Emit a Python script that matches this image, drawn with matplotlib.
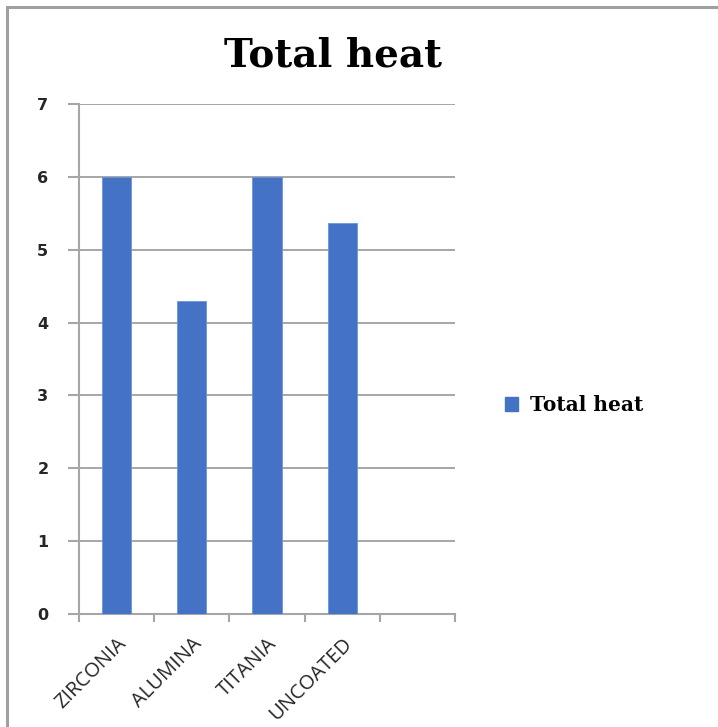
import matplotlib
matplotlib.use("Agg")
import matplotlib.pyplot as plt
from matplotlib.patches import Rectangle, Patch

categories = ["ZIRCONIA", "ALUMINA", "TITANIA", "UNCOATED", ""]
total_heat = [6.0, 4.3, 6.0, 5.36]
y_ticks = [0, 1, 2, 3, 4, 5, 6, 7]

bar_color = "#4472C4"
grid_color = "#A6A6A6"

fig = plt.figure(figsize=(7.18, 7.27), dpi=100)
ax = fig.add_axes([0.110, 0.1554, 0.5237, 0.7016])

n = len(categories)
ax.bar(range(len(total_heat)), total_heat, width=0.39, color=bar_color,
       edgecolor="#6A95DD", linewidth=0.6, zorder=3)

ax.set_xlim(-0.5, n - 0.5)
ax.set_ylim(0, 7)
ax.set_yticks(y_ticks)
ax.set_yticklabels([str(t) for t in y_ticks], fontweight="bold",
                   fontsize=11.5, color="#262626", family="DejaVu Sans")

# category boundary ticks on the x axis, labels at centres
ax.set_xticks([i - 0.5 for i in range(n + 1)])
ax.set_xticklabels([])
ax.set_xticks(range(n), minor=True)
ax.set_xticklabels(categories, minor=True, rotation=45, ha="right",
                   rotation_mode="anchor", fontsize=14.5,
                   family="Open Sans", color="#262626")
ax.tick_params(axis="x", which="minor", length=0, pad=14)
ax.tick_params(axis="x", which="major", length=6, width=1.5,
               color=grid_color)
ax.tick_params(axis="y", length=8, width=1.5, color=grid_color, pad=14)

ax.grid(axis="y", color=grid_color, linewidth=1.4, zorder=0)
for s in ["top", "right"]:
    ax.spines[s].set_visible(False)
for s in ["left", "bottom"]:
    ax.spines[s].set_color(grid_color)
    ax.spines[s].set_linewidth(1.5)

fig.text(0.464, 0.908, "Total heat", ha="center", va="baseline",
         fontsize=28, fontweight="bold", family="DejaVu Serif")

handle = Patch(facecolor=bar_color, edgecolor=bar_color)
fig.legend([handle], ["Total heat"], loc="center left",
           bbox_to_anchor=(0.678, 0.443), frameon=False,
           prop={"family": "DejaVu Serif", "weight": "bold", "size": 14.5},
           handlelength=0.65, handleheight=0.65, handletextpad=0.6)

fig.patches.append(Rectangle((7 / 718, -0.05), 1.2, 1.05 - 7 / 727,
                             transform=fig.transFigure, fill=False,
                             edgecolor="#A0A0A0", linewidth=2.2))

fig.savefig("out.png", dpi=100)
